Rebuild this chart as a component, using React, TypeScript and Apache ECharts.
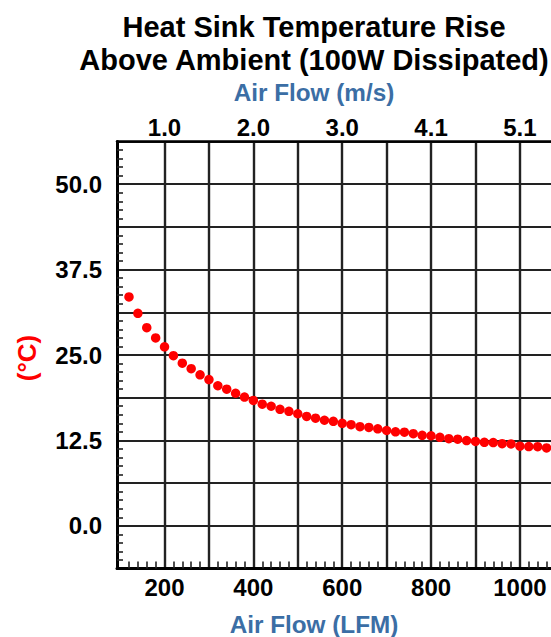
import React, { useEffect, useRef } from "react";
import * as echarts from "echarts";

// ---- data ----
const airflowLFM = [
  120, 140, 160, 180, 200, 220, 240, 260, 280, 300, 320, 340, 360, 380, 400, 420,
  440, 460, 480, 500, 520, 540, 560, 580, 600, 620, 640, 660, 680, 700, 720, 740,
  760, 780, 800, 820, 840, 860, 880, 900, 920, 940, 960, 980, 1000, 1020, 1040, 1060,
];
const tempRise = [
  33.5, 31.1, 29.0, 27.5, 26.2, 24.9, 23.8, 23.0, 22.1, 21.4, 20.5, 20.0, 19.4, 18.85, 18.35, 17.8,
  17.5, 17.05, 16.75, 16.4, 16.0, 15.75, 15.45, 15.3, 15.0, 14.8, 14.5, 14.4, 14.2, 13.95, 13.75, 13.7,
  13.48, 13.25, 13.18, 12.95, 12.75, 12.68, 12.48, 12.35, 12.22, 12.18, 12.02, 11.98, 11.65, 11.6, 11.58, 11.4,
];
const xGridValues = [200, 300, 400, 500, 600, 700, 800, 900, 1000];
const xLabelValues = [200, 400, 600, 800, 1000];
const LFM_TO_MS = 0.00508;
const xMin = 93;
const xMax = 1070;
const yMin = -6.25;
const yMax = 56.25;
const yStep = 6.25;
const yLabelStep = 12.5;

const titleLines = ["Heat Sink Temperature Rise", "Above Ambient (100W Dissipated)"];
const topAxisName = "Air Flow (m/s)";
const bottomAxisName = "Air Flow (LFM)";
const yAxisName = "(°C)";

const FONT = "'Liberation Sans', Arial, Helvetica, sans-serif";
const NAME_COLOR = "#3b6ea5";
const TICK_SIZE = 24;

function txt(text: string, x: number, y: number, size: number, color: string, rotation = 0) {
  return {
    type: "text",
    x,
    y,
    rotation,
    style: {
      text,
      fontSize: size,
      fontWeight: "bold",
      fontFamily: FONT,
      fill: color,
      align: "center",
      verticalAlign: "middle",
      textAlign: "center",
      textVerticalAlign: "middle",
    },
  };
}

export default function App() {
  const ref = useRef<HTMLDivElement>(null);
  useEffect(() => {
    if (!ref.current) return;
    const chart = echarts.init(ref.current, null, { renderer: "svg" });
    const data = airflowLFM.map((x, i) => [x, tempRise[i]]);
    const isMultiple = (v: number, s: number) => Math.abs(v / s - Math.round(v / s)) < 1e-6;
    const tickText = { fontSize: TICK_SIZE, fontWeight: "bold", fontFamily: FONT, color: "#000" };
    chart.setOption({
      animation: false,
      backgroundColor: "#ffffff",
      grid: { left: 117, top: 141.5, right: -6, bottom: 68.5, containLabel: false },
      xAxis: [
        {
          type: "value",
          position: "bottom",
          min: xMin,
          max: xMax,
          splitNumber: 10,
          axisLine: { show: true, onZero: false, lineStyle: { color: "#000", width: 3 } },
          axisTick: { show: false, inside: true, customValues: xGridValues },
          minorTick: { show: true, splitNumber: 5, length: 7, lineStyle: { color: "#222", width: 1.6 } },
          splitLine: { show: true, lineStyle: { color: "#222", width: 2.4 } },
          axisLabel: {
            customValues: xLabelValues,
            formatter: (v: number) => String(Math.round(v)),
            ...tickText,
            margin: 7,
          },
        },
        {
          type: "value",
          position: "top",
          min: xMin,
          max: xMax,
          splitNumber: 10,
          axisLine: { show: true, onZero: false, lineStyle: { color: "#000", width: 2.5 } },
          axisTick: { show: false },
          minorTick: { show: false },
          splitLine: { show: false },
          axisLabel: {
            customValues: xLabelValues,
            formatter: (v: number) => (v * LFM_TO_MS).toFixed(1),
            ...tickText,
            margin: 2,
          },
        },
      ],
      yAxis: {
        type: "value",
        min: yMin,
        max: yMax,
        interval: yStep,
        axisLine: { show: true, onZero: false, lineStyle: { color: "#000", width: 3 } },
        axisTick: { show: false, inside: true },
        minorTick: { show: true, splitNumber: 5, length: 6, lineStyle: { color: "#222", width: 1.6 } },
        splitLine: { show: true, lineStyle: { color: "#222", width: 2 } },
        axisLabel: {
          formatter: (v: number) => (isMultiple(v, yLabelStep) ? v.toFixed(1) : ""),
          ...tickText,
          margin: 15,
        },
      },
      series: [
        {
          type: "scatter",
          xAxisIndex: 0,
          data,
          symbol: "circle",
          symbolSize: 9.5,
          itemStyle: { color: "#ff0000", opacity: 1 },
          clip: true,
        },
      ],
      graphic: [
        txt(titleLines[0], 314, 27, 29, "#000"),
        txt(titleLines[1], 314, 60, 29, "#000"),
        txt(topAxisName, 314, 92.5, 24.3, NAME_COLOR),
        txt(bottomAxisName, 314, 624, 24.3, NAME_COLOR),
        txt(yAxisName, 27, 358, 26, "#ff0000", Math.PI / 2),
      ],
    });
    return () => chart.dispose();
  }, []);
  return (
    <div
      ref={ref}
      style={{ position: "absolute", left: 0, top: 0, width: 551, height: 637, overflow: "hidden" }}
    />
  );
}
